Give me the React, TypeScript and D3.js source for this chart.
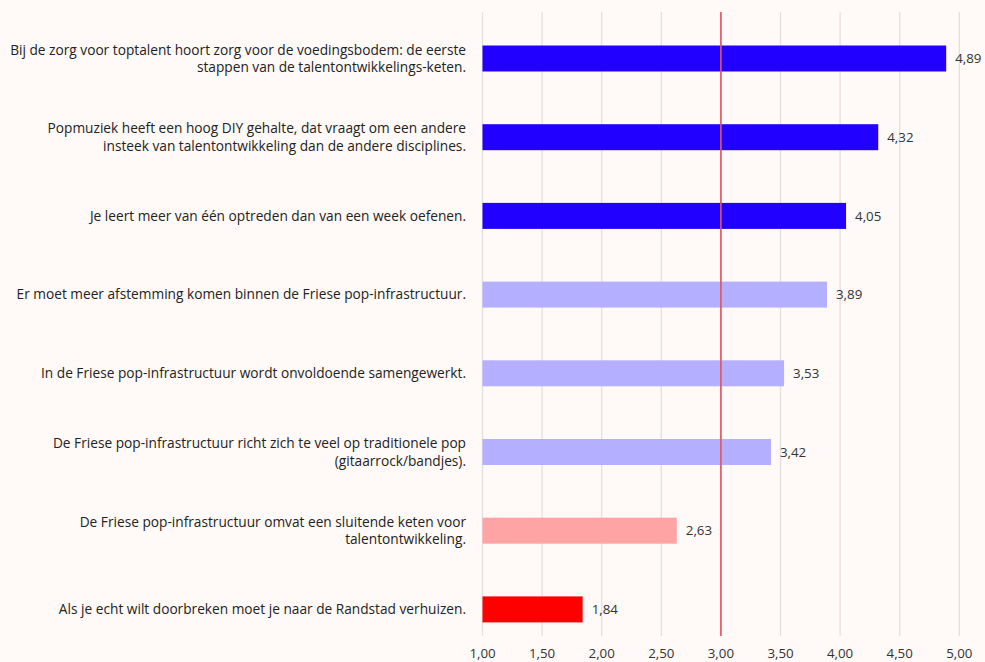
import React from "react";
import * as d3 from "d3";

const categories: string[][] = [
  ["Bij de zorg voor toptalent hoort zorg voor de voedingsbodem: de eerste", "stappen van de talentontwikkelings-keten."],
  ["Popmuziek heeft een hoog DIY gehalte, dat vraagt om een andere", "insteek van talentontwikkeling dan de andere disciplines."],
  ["Je leert meer van één optreden dan van een week oefenen."],
  ["Er moet meer afstemming komen binnen de Friese pop-infrastructuur."],
  ["In de Friese pop-infrastructuur wordt onvoldoende samengewerkt."],
  ["De Friese pop-infrastructuur richt zich te veel op traditionele pop", "(gitaarrock/bandjes)."],
  ["De Friese pop-infrastructuur omvat een sluitende keten voor", "talentontwikkeling."],
  ["Als je echt wilt doorbreken moet je naar de Randstad verhuizen."],
];
const values: number[] = [4.89, 4.32, 4.05, 3.89, 3.53, 3.42, 2.63, 1.84];
const barColors: string[] = ["#2200ff", "#2200ff", "#2200ff", "#b4b0ff", "#b4b0ff", "#b4b0ff", "#ffa4a4", "#ff0000"];
const ticks: number[] = [1, 1.5, 2, 2.5, 3, 3.5, 4, 4.5, 5];
const referenceValue = 3;

const W = 985;
const H = 662;
const FONT = "'Open Sans', 'Noto Sans', sans-serif";

export default function App() {
  const x = d3.scaleLinear().domain([1, 5]).range([482.5, 959.3]);
  const idx = categories.map((_, i) => String(i));
  const y = d3.scalePoint<string>().domain(idx).range([58.5, 609.4]);
  const barH = 26;
  const gridTop = 12;
  const gridBottom = 636;
  const fmt = (v: number) => v.toFixed(2).replace(".", ",");

  return (
    <svg width={W} height={H} style={{ position: "absolute", left: 0, top: 0, background: "#fffaf7" }}>
      <rect x={0} y={0} width={W} height={H} fill="#fffaf7" />
      {ticks.map((t) => (
        <line key={"g" + t} x1={x(t)} x2={x(t)} y1={gridTop} y2={gridBottom} stroke="#e3dfdc" strokeWidth={1.3} />
      ))}
      {values.map((v, i) => {
        const cy = y(String(i))!;
        return (
          <g key={"b" + i}>
            <rect x={x(1)} y={cy - barH / 2} width={x(v) - x(1)} height={barH} fill={barColors[i]} />
            <text x={x(v) + 9} y={cy} dy="0.35em" fontSize={13.3} fill="#333" fontFamily={FONT}>
              {fmt(v)}
            </text>
          </g>
        );
      })}
      <line x1={x(referenceValue)} x2={x(referenceValue)} y1={gridTop} y2={gridBottom} stroke="#e05560" strokeWidth={1.6} />
      {categories.map((lines, i) => {
        const cy = y(String(i))!;
        const lh = 17.5;
        const start = cy - ((lines.length - 1) * lh) / 2;
        return (
          <text key={"c" + i} textAnchor="end" fontSize={13.7} fill="#222" fontFamily={FONT}>
            {lines.map((l, j) => (
              <tspan key={j} x={466} y={start + j * lh} dy="0.35em">
                {l}
              </tspan>
            ))}
          </text>
        );
      })}
      {ticks.map((t) => (
        <text key={"t" + t} x={x(t)} y={653} dy="0.35em" textAnchor="middle" fontSize={13.3} fill="#333" fontFamily={FONT}>
          {fmt(t)}
        </text>
      ))}
    </svg>
  );
}
